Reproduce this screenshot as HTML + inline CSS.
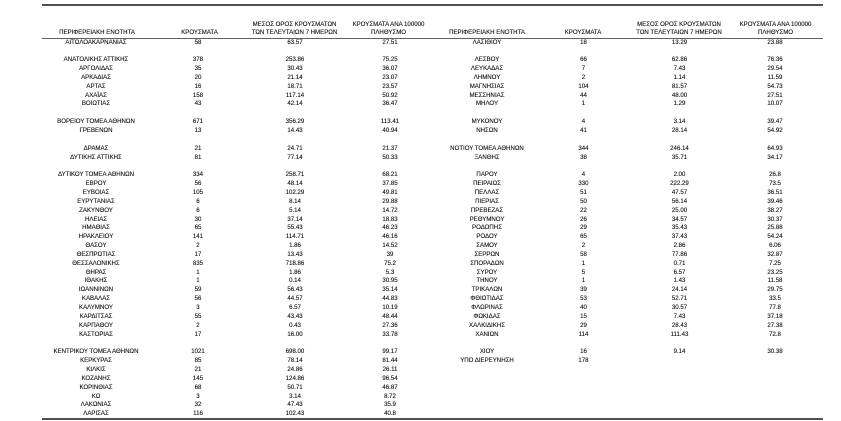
<!DOCTYPE html>
<html>
<head>
<meta charset="utf-8">
<style>
html,body{margin:0;padding:0;background:#fff;}
body{width:841px;height:421px;position:relative;overflow:hidden;font-family:"Liberation Sans","DejaVu Sans",sans-serif;color:#111;}
.ln{position:absolute;left:41.5px;width:781.5px;}
.r{position:absolute;left:0;top:calc(38.5px + var(--i)*8.85px);width:841px;height:8px;}
.h{position:absolute;left:0;width:841px;height:8px;}
.r span,.h span{position:absolute;top:0;width:120px;text-align:center;line-height:8px;font-size:6.1px;white-space:nowrap;-webkit-text-stroke:0.12px #111;}
.L .n{left:36px}.L .k{left:138px}.L .m{left:235px}.L .p{left:330px}
.R .n{left:427px}.R .k{left:523.5px}.R .m{left:619.5px}.R .p{left:715px}
.hd .n.L{left:37px}.hd .k.L{left:139.5px}.hd .m.L{left:234.5px}.hd .p.L{left:328.5px}
.hd .n.R{left:427px}.hd .k.R{left:523px}.hd .m.R{left:619px}.hd .p.R{left:715.5px}
</style>
</head>
<body>
<div class="ln" style="top:4px;height:2px;background:#505050;"></div>
<div class="ln" style="top:37.6px;height:1.6px;background:#606060;"></div>
<div class="ln" style="top:417.5px;height:2px;background:#505050;"></div>

<div class="hd">
<div class="h" style="top:21px">
<span class="m L">ΜΕΣΟΣ ΟΡΟΣ ΚΡΟΥΣΜΑΤΩΝ</span><span class="p L">ΚΡΟΥΣΜΑΤΑ ΑΝΑ 100000</span>
<span class="m R">ΜΕΣΟΣ ΟΡΟΣ ΚΡΟΥΣΜΑΤΩΝ</span><span class="p R">ΚΡΟΥΣΜΑΤΑ ΑΝΑ 100000</span>
</div>
<div class="h" style="top:29.3px">
<span class="n L">ΠΕΡΙΦΕΡΕΙΑΚΗ ΕΝΟΤΗΤΑ</span><span class="k L">ΚΡΟΥΣΜΑΤΑ</span><span class="m L">ΤΩΝ ΤΕΛΕΥΤΑΙΩΝ 7 ΗΜΕΡΩΝ</span><span class="p L">ΠΛΗΘΥΣΜΟ</span>
<span class="n R">ΠΕΡΙΦΕΡΕΙΑΚΗ ΕΝΟΤΗΤΑ</span><span class="k R">ΚΡΟΥΣΜΑΤΑ</span><span class="m R">ΤΩΝ ΤΕΛΕΥΤΑΙΩΝ 7 ΗΜΕΡΩΝ</span><span class="p R">ΠΛΗΘΥΣΜΟ</span>
</div>
</div>

<div class="L">
<div class="r" style="--i:0"><span class="n">ΑΙΤΩΛΟΑΚΑΡΝΑΝΙΑΣ</span><span class="k">58</span><span class="m">63.57</span><span class="p">27.51</span></div>
<div class="r" style="--i:2"><span class="n">ΑΝΑΤΟΛΙΚΗΣ ΑΤΤΙΚΗΣ</span><span class="k">378</span><span class="m">253.86</span><span class="p">75.25</span></div>
<div class="r" style="--i:3"><span class="n">ΑΡΓΟΛΙΔΑΣ</span><span class="k">35</span><span class="m">30.43</span><span class="p">36.07</span></div>
<div class="r" style="--i:4"><span class="n">ΑΡΚΑΔΙΑΣ</span><span class="k">20</span><span class="m">21.14</span><span class="p">23.07</span></div>
<div class="r" style="--i:5"><span class="n">ΑΡΤΑΣ</span><span class="k">16</span><span class="m">18.71</span><span class="p">23.57</span></div>
<div class="r" style="--i:6"><span class="n">ΑΧΑΪΑΣ</span><span class="k">158</span><span class="m">117.14</span><span class="p">50.92</span></div>
<div class="r" style="--i:7"><span class="n">ΒΟΙΩΤΙΑΣ</span><span class="k">43</span><span class="m">42.14</span><span class="p">36.47</span></div>
<div class="r" style="--i:9"><span class="n">ΒΟΡΕΙΟΥ ΤΟΜΕΑ ΑΘΗΝΩΝ</span><span class="k">671</span><span class="m">356.29</span><span class="p">113.41</span></div>
<div class="r" style="--i:10"><span class="n">ΓΡΕΒΕΝΩΝ</span><span class="k">13</span><span class="m">14.43</span><span class="p">40.94</span></div>
<div class="r" style="--i:12"><span class="n">ΔΡΑΜΑΣ</span><span class="k">21</span><span class="m">24.71</span><span class="p">21.37</span></div>
<div class="r" style="--i:13"><span class="n">ΔΥΤΙΚΗΣ ΑΤΤΙΚΗΣ</span><span class="k">81</span><span class="m">77.14</span><span class="p">50.33</span></div>
<div class="r" style="--i:15"><span class="n">ΔΥΤΙΚΟΥ ΤΟΜΕΑ ΑΘΗΝΩΝ</span><span class="k">334</span><span class="m">258.71</span><span class="p">68.21</span></div>
<div class="r" style="--i:16"><span class="n">ΕΒΡΟΥ</span><span class="k">56</span><span class="m">48.14</span><span class="p">37.85</span></div>
<div class="r" style="--i:17"><span class="n">ΕΥΒΟΙΑΣ</span><span class="k">105</span><span class="m">102.29</span><span class="p">49.81</span></div>
<div class="r" style="--i:18"><span class="n">ΕΥΡΥΤΑΝΙΑΣ</span><span class="k">6</span><span class="m">8.14</span><span class="p">29.88</span></div>
<div class="r" style="--i:19"><span class="n">ΖΑΚΥΝΘΟΥ</span><span class="k">6</span><span class="m">5.14</span><span class="p">14.72</span></div>
<div class="r" style="--i:20"><span class="n">ΗΛΕΙΑΣ</span><span class="k">30</span><span class="m">37.14</span><span class="p">18.83</span></div>
<div class="r" style="--i:21"><span class="n">ΗΜΑΘΙΑΣ</span><span class="k">65</span><span class="m">55.43</span><span class="p">46.23</span></div>
<div class="r" style="--i:22"><span class="n">ΗΡΑΚΛΕΙΟΥ</span><span class="k">141</span><span class="m">114.71</span><span class="p">46.16</span></div>
<div class="r" style="--i:23"><span class="n">ΘΑΣΟΥ</span><span class="k">2</span><span class="m">1.86</span><span class="p">14.52</span></div>
<div class="r" style="--i:24"><span class="n">ΘΕΣΠΡΩΤΙΑΣ</span><span class="k">17</span><span class="m">13.43</span><span class="p">39</span></div>
<div class="r" style="--i:25"><span class="n">ΘΕΣΣΑΛΟΝΙΚΗΣ</span><span class="k">835</span><span class="m">718.86</span><span class="p">75.2</span></div>
<div class="r" style="--i:26"><span class="n">ΘΗΡΑΣ</span><span class="k">1</span><span class="m">1.86</span><span class="p">5.3</span></div>
<div class="r" style="--i:27"><span class="n">ΙΘΑΚΗΣ</span><span class="k">1</span><span class="m">0.14</span><span class="p">30.95</span></div>
<div class="r" style="--i:28"><span class="n">ΙΩΑΝΝΙΝΩΝ</span><span class="k">59</span><span class="m">56.43</span><span class="p">35.14</span></div>
<div class="r" style="--i:29"><span class="n">ΚΑΒΑΛΑΣ</span><span class="k">56</span><span class="m">44.57</span><span class="p">44.83</span></div>
<div class="r" style="--i:30"><span class="n">ΚΑΛΥΜΝΟΥ</span><span class="k">3</span><span class="m">6.57</span><span class="p">10.19</span></div>
<div class="r" style="--i:31"><span class="n">ΚΑΡΔΙΤΣΑΣ</span><span class="k">55</span><span class="m">43.43</span><span class="p">48.44</span></div>
<div class="r" style="--i:32"><span class="n">ΚΑΡΠΑΘΟΥ</span><span class="k">2</span><span class="m">0.43</span><span class="p">27.36</span></div>
<div class="r" style="--i:33"><span class="n">ΚΑΣΤΟΡΙΑΣ</span><span class="k">17</span><span class="m">16.00</span><span class="p">33.78</span></div>
<div class="r" style="--i:35"><span class="n">ΚΕΝΤΡΙΚΟΥ ΤΟΜΕΑ ΑΘΗΝΩΝ</span><span class="k">1021</span><span class="m">698.00</span><span class="p">99.17</span></div>
<div class="r" style="--i:36"><span class="n">ΚΕΡΚΥΡΑΣ</span><span class="k">85</span><span class="m">78.14</span><span class="p">81.44</span></div>
<div class="r" style="--i:37"><span class="n">ΚΙΛΚΙΣ</span><span class="k">21</span><span class="m">24.86</span><span class="p">26.11</span></div>
<div class="r" style="--i:38"><span class="n">ΚΟΖΑΝΗΣ</span><span class="k">145</span><span class="m">124.86</span><span class="p">96.54</span></div>
<div class="r" style="--i:39"><span class="n">ΚΟΡΙΝΘΙΑΣ</span><span class="k">68</span><span class="m">50.71</span><span class="p">46.87</span></div>
<div class="r" style="--i:40"><span class="n">ΚΩ</span><span class="k">3</span><span class="m">3.14</span><span class="p">8.72</span></div>
<div class="r" style="--i:41"><span class="n">ΛΑΚΩΝΙΑΣ</span><span class="k">32</span><span class="m">47.43</span><span class="p">35.9</span></div>
<div class="r" style="--i:42"><span class="n">ΛΑΡΙΣΑΣ</span><span class="k">116</span><span class="m">102.43</span><span class="p">40.8</span></div>
</div>

<div class="R">
<div class="r" style="--i:0"><span class="n">ΛΑΣΙΘΙΟΥ</span><span class="k">18</span><span class="m">13.29</span><span class="p">23.88</span></div>
<div class="r" style="--i:2"><span class="n">ΛΕΣΒΟΥ</span><span class="k">66</span><span class="m">62.86</span><span class="p">76.36</span></div>
<div class="r" style="--i:3"><span class="n">ΛΕΥΚΑΔΑΣ</span><span class="k">7</span><span class="m">7.43</span><span class="p">29.54</span></div>
<div class="r" style="--i:4"><span class="n">ΛΗΜΝΟΥ</span><span class="k">2</span><span class="m">1.14</span><span class="p">11.59</span></div>
<div class="r" style="--i:5"><span class="n">ΜΑΓΝΗΣΙΑΣ</span><span class="k">104</span><span class="m">81.57</span><span class="p">54.73</span></div>
<div class="r" style="--i:6"><span class="n">ΜΕΣΣΗΝΙΑΣ</span><span class="k">44</span><span class="m">48.00</span><span class="p">27.51</span></div>
<div class="r" style="--i:7"><span class="n">ΜΗΛΟΥ</span><span class="k">1</span><span class="m">1.29</span><span class="p">10.07</span></div>
<div class="r" style="--i:9"><span class="n">ΜΥΚΟΝΟΥ</span><span class="k">4</span><span class="m">3.14</span><span class="p">39.47</span></div>
<div class="r" style="--i:10"><span class="n">ΝΗΣΩΝ</span><span class="k">41</span><span class="m">28.14</span><span class="p">54.92</span></div>
<div class="r" style="--i:12"><span class="n">ΝΟΤΙΟΥ ΤΟΜΕΑ ΑΘΗΝΩΝ</span><span class="k">344</span><span class="m">246.14</span><span class="p">64.93</span></div>
<div class="r" style="--i:13"><span class="n">ΞΑΝΘΗΣ</span><span class="k">38</span><span class="m">35.71</span><span class="p">34.17</span></div>
<div class="r" style="--i:15"><span class="n">ΠΑΡΟΥ</span><span class="k">4</span><span class="m">2.00</span><span class="p">26.8</span></div>
<div class="r" style="--i:16"><span class="n">ΠΕΙΡΑΙΩΣ</span><span class="k">330</span><span class="m">222.29</span><span class="p">73.5</span></div>
<div class="r" style="--i:17"><span class="n">ΠΕΛΛΑΣ</span><span class="k">51</span><span class="m">47.57</span><span class="p">36.51</span></div>
<div class="r" style="--i:18"><span class="n">ΠΙΕΡΙΑΣ</span><span class="k">50</span><span class="m">56.14</span><span class="p">39.46</span></div>
<div class="r" style="--i:19"><span class="n">ΠΡΕΒΕΖΑΣ</span><span class="k">22</span><span class="m">25.00</span><span class="p">38.27</span></div>
<div class="r" style="--i:20"><span class="n">ΡΕΘΥΜΝΟΥ</span><span class="k">26</span><span class="m">34.57</span><span class="p">30.37</span></div>
<div class="r" style="--i:21"><span class="n">ΡΟΔΟΠΗΣ</span><span class="k">29</span><span class="m">35.43</span><span class="p">25.88</span></div>
<div class="r" style="--i:22"><span class="n">ΡΟΔΟΥ</span><span class="k">65</span><span class="m">37.43</span><span class="p">54.24</span></div>
<div class="r" style="--i:23"><span class="n">ΣΑΜΟΥ</span><span class="k">2</span><span class="m">2.86</span><span class="p">6.06</span></div>
<div class="r" style="--i:24"><span class="n">ΣΕΡΡΩΝ</span><span class="k">58</span><span class="m">77.86</span><span class="p">32.87</span></div>
<div class="r" style="--i:25"><span class="n">ΣΠΟΡΑΔΩΝ</span><span class="k">1</span><span class="m">0.71</span><span class="p">7.25</span></div>
<div class="r" style="--i:26"><span class="n">ΣΥΡΟΥ</span><span class="k">5</span><span class="m">6.57</span><span class="p">23.25</span></div>
<div class="r" style="--i:27"><span class="n">ΤΗΝΟΥ</span><span class="k">1</span><span class="m">1.43</span><span class="p">11.58</span></div>
<div class="r" style="--i:28"><span class="n">ΤΡΙΚΑΛΩΝ</span><span class="k">39</span><span class="m">24.14</span><span class="p">29.75</span></div>
<div class="r" style="--i:29"><span class="n">ΦΘΙΩΤΙΔΑΣ</span><span class="k">53</span><span class="m">52.71</span><span class="p">33.5</span></div>
<div class="r" style="--i:30"><span class="n">ΦΛΩΡΙΝΑΣ</span><span class="k">40</span><span class="m">30.57</span><span class="p">77.8</span></div>
<div class="r" style="--i:31"><span class="n">ΦΩΚΙΔΑΣ</span><span class="k">15</span><span class="m">7.43</span><span class="p">37.18</span></div>
<div class="r" style="--i:32"><span class="n">ΧΑΛΚΙΔΙΚΗΣ</span><span class="k">29</span><span class="m">28.43</span><span class="p">27.38</span></div>
<div class="r" style="--i:33"><span class="n">ΧΑΝΙΩΝ</span><span class="k">114</span><span class="m">111.43</span><span class="p">72.8</span></div>
<div class="r" style="--i:35"><span class="n">ΧΙΟΥ</span><span class="k">16</span><span class="m">9.14</span><span class="p">30.38</span></div>
<div class="r" style="--i:36"><span class="n">ΥΠΟ ΔΙΕΡΕΥΝΗΣΗ</span><span class="k">178</span></div>
</div>
</body>
</html>
